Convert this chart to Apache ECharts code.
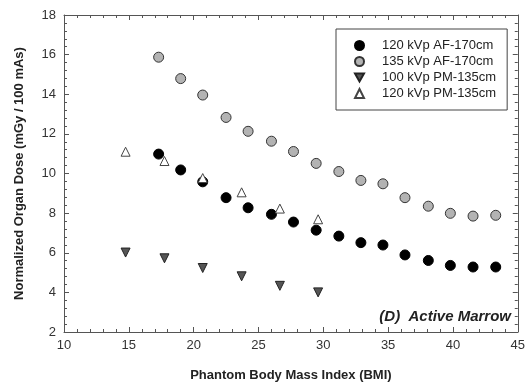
<!DOCTYPE html>
<html><head><meta charset="utf-8">
<script src="https://cdn.jsdelivr.net/npm/echarts@6/dist/echarts.min.js"></script>
<style>html,body{margin:0;padding:0;background:#fff}#c{width:528px;height:387px}</style>
</head><body><div id="c"></div>
<script>
const bmiAF = [17.3, 19.0, 20.7, 22.5, 24.2, 26.0, 27.7, 29.45, 31.2, 32.9, 34.6, 36.3, 38.1, 39.8, 41.55, 43.3];
const af120 = [10.98, 10.18, 9.58, 8.78, 8.27, 7.94, 7.55, 7.14, 6.84, 6.51, 6.39, 5.89, 5.61, 5.36, 5.28, 5.28];
const af135 = [15.87, 14.79, 13.96, 12.83, 12.13, 11.63, 11.11, 10.51, 10.1, 9.65, 9.48, 8.78, 8.35, 7.99, 7.85, 7.89];
const bmiPM = [14.75, 17.75, 20.7, 23.7, 26.65, 29.6];
const pm100 = [6.01, 5.72, 5.23, 4.81, 4.33, 4.0];
const pm120 = [11.1, 10.63, 9.77, 9.05, 8.23, 7.69];
const seriesNames = ['120 kVp AF-170cm', '135 kVp AF-170cm', '100 kVp PM-135cm', '120 kVp PM-135cm'];
const xTicks = [10, 15, 20, 25, 30, 35, 40, 45];
const yTicks = [2, 4, 6, 8, 10, 12, 14, 16, 18];

const pair = (xs, ys) => xs.map((x, i) => [x, ys[i]]);
const font = 'Liberation Sans, Arial, sans-serif';
const tickStyle = {color: '#555', width: 1};
function axisBase(extra) {
  return Object.assign({
    type: 'value',
    axisLine: {lineStyle: {color: '#555', width: 1}},
    axisTick: {inside: true, length: 5, lineStyle: tickStyle},
    minorTick: {show: true, splitNumber: 5, length: 3, lineStyle: tickStyle},
    splitLine: {show: false}
  }, extra);
}
const chart = echarts.init(document.getElementById('c'));
chart.setOption({
  animation: false,
  grid: {left: 64, right: 5, top: 15, bottom: 51},
  xAxis: [
    axisBase({min: xTicks[0], max: xTicks[xTicks.length-1], interval: 5, position: 'bottom',
      axisLabel: {color: '#333', fontSize: 13, fontFamily: font, margin: 7},
      name: 'Phantom Body Mass Index (BMI)', nameLocation: 'middle', nameGap: 37,
      nameTextStyle: {fontWeight: 'bold', fontSize: 13, color: '#222', fontFamily: font}}),
    axisBase({min: xTicks[0], max: xTicks[xTicks.length-1], interval: 5, position: 'top',
      axisLabel: {show: false}})
  ],
  yAxis: [
    axisBase({min: yTicks[0], max: yTicks[yTicks.length-1], interval: 2, position: 'left',
      axisLabel: {color: '#333', fontSize: 13, fontFamily: font, margin: 8},
      name: 'Normalized Organ Dose (mGy / 100 mAs)', nameLocation: 'middle', nameGap: 38,
      nameTextStyle: {fontWeight: 'bold', fontSize: 13, color: '#222', fontFamily: font}}),
    axisBase({min: yTicks[0], max: yTicks[yTicks.length-1], interval: 2, position: 'right',
      axisLabel: {show: false}})
  ],
  legend: {
    orient: 'vertical', left: 336, top: 29,
    padding: [10, 11, 10, 18], itemGap: 3, itemWidth: 9, itemHeight: 9,
    borderColor: '#444', borderWidth: 1, backgroundColor: '#fff',
    textStyle: {fontSize: 13, color: '#222', fontFamily: font, padding: [0, 0, 0, 13]},
    data: [
      {name: seriesNames[0]},
      {name: seriesNames[1]},
      {name: seriesNames[2], icon: 'path://M0,0 L10,0 L5,9 Z'},
      {name: seriesNames[3]}
    ]
  },
  graphic: [{type: 'text', right: 17, top: 309,
    style: {text: '(D)  Active Marrow', font: 'italic bold 15px Liberation Sans, Arial, sans-serif', fill: '#222'}}],
  series: [
    {name: seriesNames[0], type: 'scatter', data: pair(bmiAF, af120), symbol: 'circle', symbolSize: 10,
      itemStyle: {color: '#000', borderColor: '#000', borderWidth: 1, opacity: 1}},
    {name: seriesNames[1], type: 'scatter', data: pair(bmiAF, af135), symbol: 'circle', symbolSize: 10,
      itemStyle: {color: '#b3b3b3', borderColor: '#333', borderWidth: 1, opacity: 1}},
    {name: seriesNames[2], type: 'scatter', data: pair(bmiPM, pm100), symbol: 'triangle', symbolRotate: 180, symbolSize: 9,
      itemStyle: {color: '#555', borderColor: '#222', borderWidth: 1, opacity: 1}},
    {name: seriesNames[3], type: 'scatter', data: pair(bmiPM, pm120), symbol: 'triangle', symbolSize: 9,
      itemStyle: {color: '#fff', borderColor: '#444', borderWidth: 1, opacity: 1}}
  ]
});
</script></body></html>
